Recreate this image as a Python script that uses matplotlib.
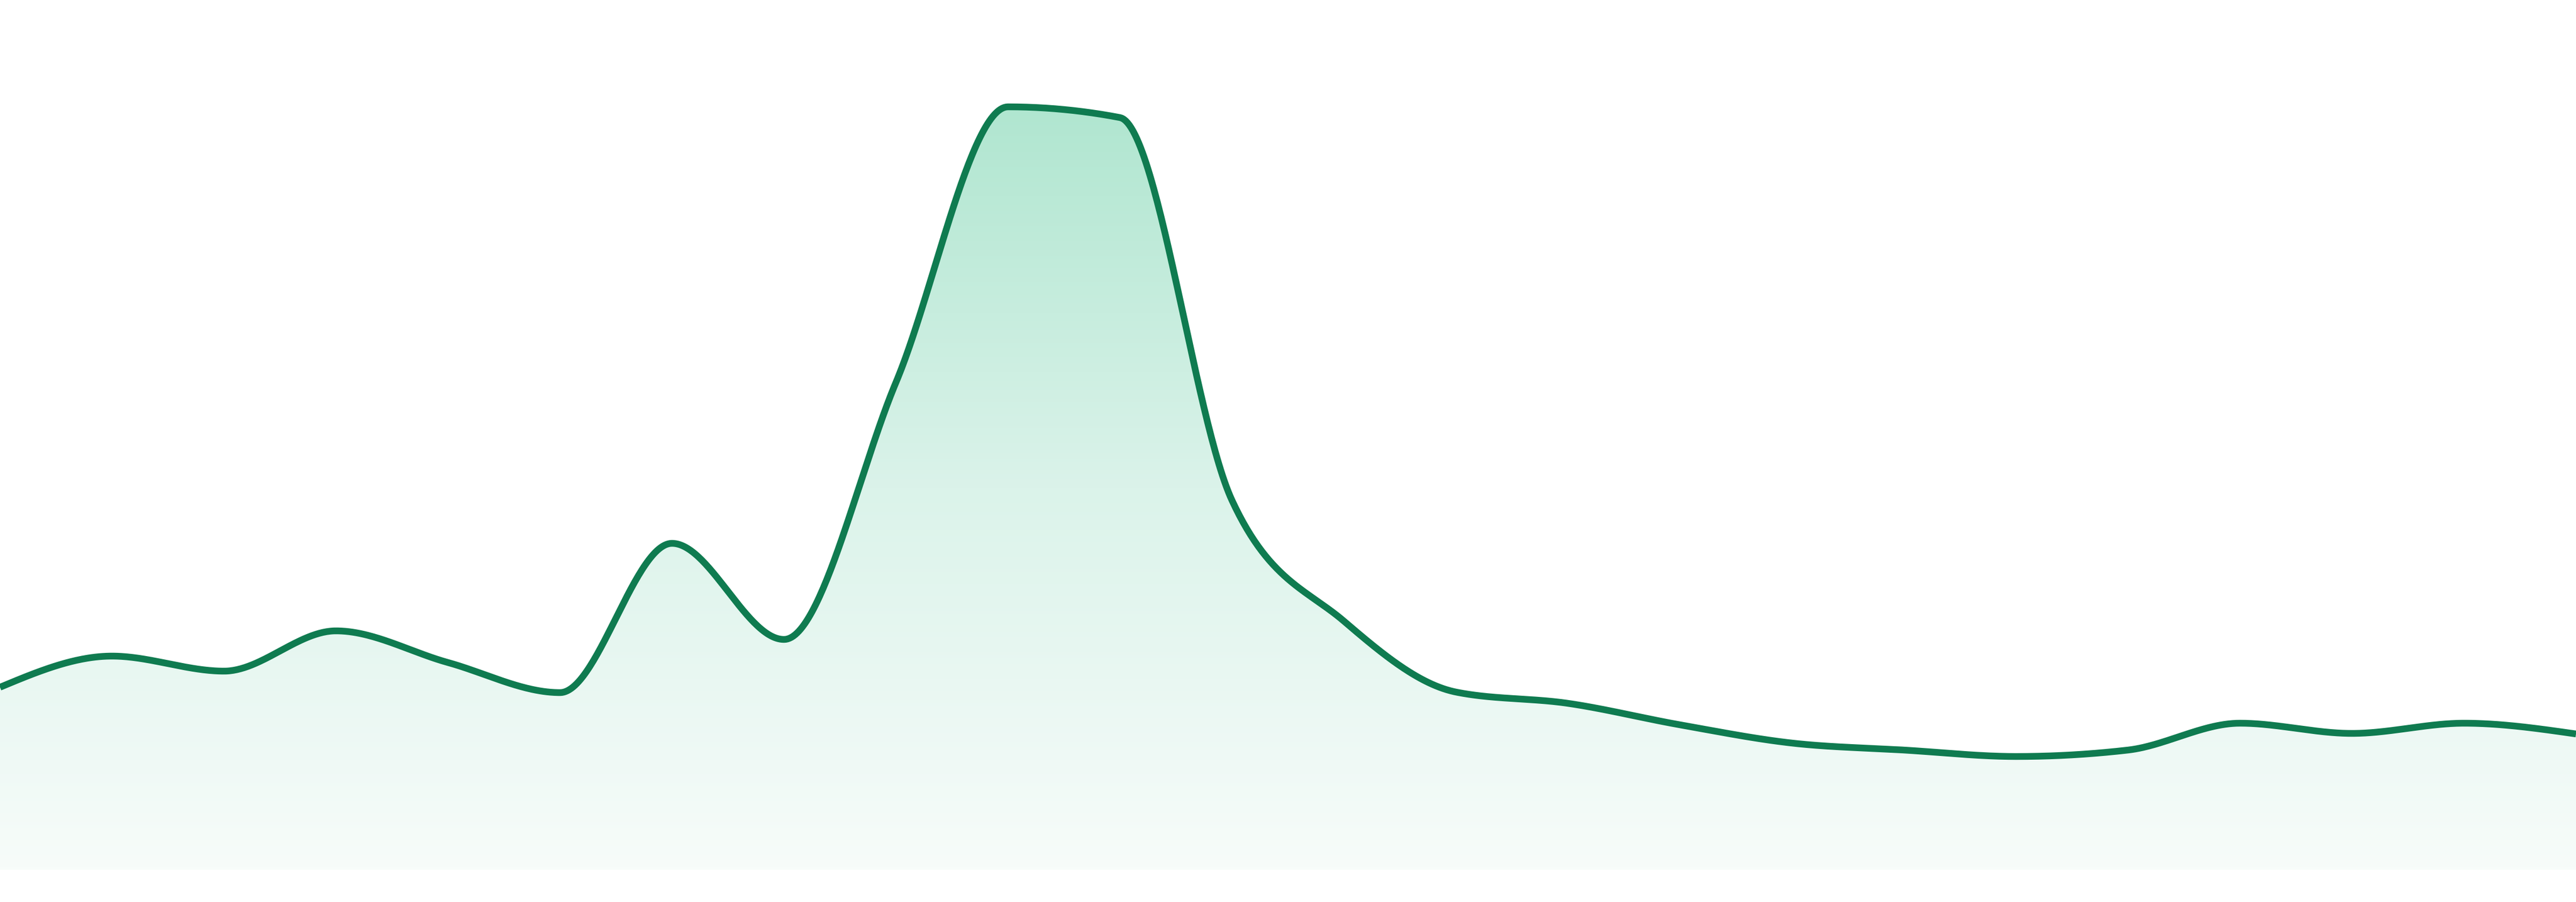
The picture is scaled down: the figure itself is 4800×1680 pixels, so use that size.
import numpy as np
import matplotlib
matplotlib.use("Agg")
import matplotlib.pyplot as plt
from matplotlib.colors import LinearSegmentedColormap

# one value per step (height above the baseline)
steps = list(range(24))
values = [34.0, 39.8, 37.0, 44.5, 38.6, 33.0, 60.8, 42.9, 90.8, 142.1, 140.1, 68.8,
          46.3, 33.1, 31.0, 27.0, 23.6, 22.3, 21.1, 22.3, 27.3, 25.4, 27.3, 25.3]

LINE = "#0f7b50"
FILL_STOPS = ["#b0e6d0", "#dbf3ea", "#f7fcfa"]


def monotone_x(x, y, per_seg=60):
    # same tangents as d3.curveMonotoneX
    x = np.asarray(x, float)
    y = np.asarray(y, float)
    n = len(x)
    h = np.diff(x)
    s = np.diff(y) / h
    m = np.zeros(n)
    for i in range(1, n - 1):
        p = (s[i - 1] * h[i] + s[i] * h[i - 1]) / (h[i - 1] + h[i])
        m[i] = (np.sign(s[i - 1]) + np.sign(s[i])) * min(abs(s[i - 1]), abs(s[i]), 0.5 * abs(p))
    m[0] = (3 * s[0] - m[1]) / 2
    m[-1] = (3 * s[-1] - m[-2]) / 2
    xs, ys = [], []
    for i in range(n - 1):
        t = np.linspace(0, 1, per_seg, endpoint=(i == n - 2))
        h00 = 2 * t**3 - 3 * t**2 + 1
        h10 = t**3 - 2 * t**2 + t
        h01 = -2 * t**3 + 3 * t**2
        h11 = t**3 - t**2
        xs.append(x[i] + t * h[i])
        ys.append(h00 * y[i] + h10 * h[i] * m[i] + h01 * y[i + 1] + h11 * h[i] * m[i + 1])
    return np.concatenate(xs), np.concatenate(ys)


fig = plt.figure(figsize=(16, 5.6), dpi=300)
ax = fig.add_axes([0, 0, 1, 1])
ax.set_xlim(steps[0], steps[-1])
ax.set_ylim(-6, 162)
ax.axis("off")

xs, ys = monotone_x(steps, values)

# gradient area under the curve
top = max(values)
cmap = LinearSegmentedColormap.from_list("mint", FILL_STOPS)
grad = np.linspace(0, 1, 256).reshape(-1, 1)
img = ax.imshow(grad, cmap=cmap, aspect="auto", origin="upper",
                extent=[steps[0], steps[-1], 0, top], zorder=1)
area = ax.fill_between(xs, ys, 0, color="none", lw=0)
clip = area.get_paths()[0]
img.set_clip_path(clip, transform=ax.transData)

ax.plot(xs, ys, color=LINE, lw=3.0, solid_capstyle="butt", solid_joinstyle="round", zorder=3)

fig.savefig("out.png", dpi=300, facecolor="white")
